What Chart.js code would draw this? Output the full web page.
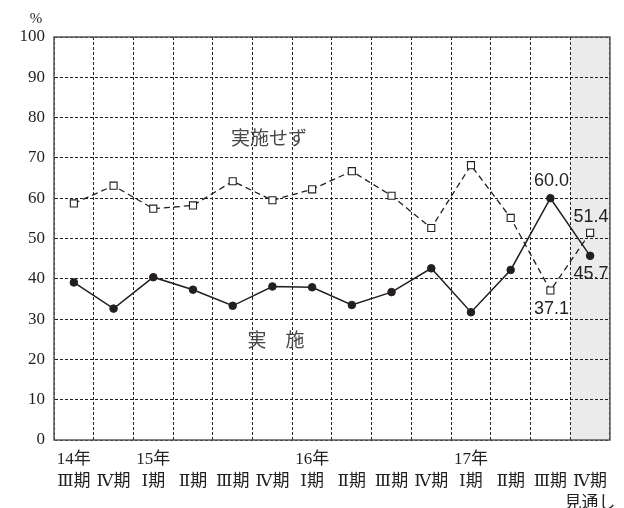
<!DOCTYPE html>
<html>
<head>
<meta charset="utf-8">
<script src="https://cdn.jsdelivr.net/npm/chart.js@4/dist/chart.umd.min.js"></script>
<style>
  html, body { margin: 0; padding: 0; background: #fff; }
  #wrap { width: 624px; height: 508px; position: relative; }
</style>
</head>
<body>
<div id="wrap"><canvas id="c" width="624" height="508"></canvas></div>
<script>
// Period labels (year row, quarter row, note row)
const years    = ['14年', '', '15年', '', '', '', '16年', '', '', '', '17年', '', '', ''];
const quarters = ['Ⅲ期', 'Ⅳ期', 'Ⅰ期', 'Ⅱ期', 'Ⅲ期', 'Ⅳ期', 'Ⅰ期', 'Ⅱ期', 'Ⅲ期', 'Ⅳ期', 'Ⅰ期', 'Ⅱ期', 'Ⅲ期', 'Ⅳ期'];
const notes    = ['', '', '', '', '', '', '', '', '', '', '', '', '', '見通し'];

// Share of firms (%)
const notImplemented = [58.7, 63.1, 57.4, 58.2, 64.2, 59.5, 62.2, 66.7, 60.6, 52.6, 68.2, 55.1, 37.1, 51.4];
const implemented    = [39.1, 32.6, 40.4, 37.3, 33.3, 38.1, 37.9, 33.5, 36.7, 42.6, 31.7, 42.2, 60.0, 45.7];

const seriesNames = ['実施せず', '実施'];
const seriesTags  = ['実施せず', '実　施'];
const unitLabel = '%';
const yTicks = [0, 10, 20, 30, 40, 50, 60, 70, 80, 90, 100];
const forecastIndex = 13;

const labels = years.map((y, i) => notes[i] ? [y, quarters[i], notes[i]] : [y, quarters[i]]);

const ink = '#231f20';
const serif = "'Liberation Serif', 'DejaVu Serif', 'Noto Sans CJK JP', serif";
const sans = "'Liberation Sans', 'Noto Sans CJK JP', sans-serif";

// Grey band behind the forecast period, and the frame around the plot
const frameAndBand = {
  id: 'frameAndBand',
  beforeDraw(chart) {
    const { ctx, chartArea: a, scales: { x } } = chart;
    const left = (x.getPixelForValue(forecastIndex - 1) + x.getPixelForValue(forecastIndex)) / 2;
    ctx.save();
    ctx.fillStyle = '#ebebeb';
    ctx.fillRect(left, a.top, a.right - left, a.bottom - a.top);
    ctx.restore();
  },
  afterDatasetsDraw(chart) {
    const { ctx, chartArea: a, scales: { y } } = chart;
    ctx.save();
    ctx.strokeStyle = '#5a5657';
    ctx.lineWidth = 1.5;
    ctx.strokeRect(a.left, a.top, a.right - a.left, a.bottom - a.top);

    // unit above the y axis
    ctx.fillStyle = ink;
    ctx.font = '15px ' + serif;
    ctx.textAlign = 'center';
    ctx.textBaseline = 'middle';
    ctx.fillText(unitLabel, a.left - 18, a.top - 18);

    // series names inside the plot
    ctx.fillStyle = '#4a4546';
    ctx.font = '19px ' + sans;
    ctx.fillText(seriesTags[0], a.left + 215, y.getPixelForValue(74.6));
    ctx.fillText(seriesTags[1], a.left + 222, y.getPixelForValue(24.3));

    // value labels for the last two periods
    ctx.fillStyle = '#231f20';
    ctx.font = '18px ' + sans;
    const marks = [
      { ds: 1, i: 12, dy: -17 },
      { ds: 1, i: 13, dy: 18 },
      { ds: 0, i: 12, dy: 19 },
      { ds: 0, i: 13, dy: -16 }
    ];
    marks.forEach(m => {
      const el = chart.getDatasetMeta(m.ds).data[m.i];
      const v = chart.data.datasets[m.ds].data[m.i];
      ctx.fillText(v.toFixed(1), el.x + 1, el.y + m.dy);
    });
    ctx.restore();
  }
};

new Chart(document.getElementById('c'), {
  type: 'line',
  data: {
    labels: labels,
    datasets: [
      {
        label: seriesNames[0],
        data: notImplemented,
        borderColor: ink,
        borderWidth: 1.3,
        borderDash: [6, 4],
        pointStyle: 'rect',
        pointRadius: 5,
        pointBackgroundColor: '#fff',
        pointBorderColor: ink,
        pointBorderWidth: 1.1,
        tension: 0
      },
      {
        label: seriesNames[1],
        data: implemented,
        borderColor: ink,
        borderWidth: 1.5,
        pointStyle: 'circle',
        pointRadius: 3.8,
        pointBackgroundColor: ink,
        pointBorderColor: ink,
        pointBorderWidth: 1,
        tension: 0
      }
    ]
  },
  options: {
    responsive: false,
    animation: false,
    devicePixelRatio: 1,
    layout: { padding: { top: 37, right: 11, left: 0, bottom: 0 } },
    plugins: { legend: { display: false }, tooltip: { enabled: false } },
    scales: {
      x: {
        offset: true,
        grid: {
          offset: true,
          drawTicks: false,
          color: ink,
          lineWidth: 1
        },
        border: { display: true, color: 'rgba(0,0,0,0)', dash: [3, 2] },
        ticks: {
          color: ink,
          font: { family: serif, size: 17, lineHeight: 1.3 },
          padding: 8,
          maxRotation: 0,
          autoSkip: false
        },
        afterFit(scale) { scale.height = 68; }
      },
      y: {
        min: 0,
        max: 100,
        afterBuildTicks(scale) { scale.ticks = yTicks.map(v => ({ value: v })); },
        grid: { drawTicks: false, color: ink, lineWidth: 1 },
        border: { display: true, color: 'rgba(0,0,0,0)', dash: [3, 2] },
        ticks: {
          color: ink,
          font: { family: serif, size: 17 },
          padding: 9
        },
        afterFit(scale) { scale.width = 54; }
      }
    }
  },
  plugins: [frameAndBand]
});
</script>
</body>
</html>
